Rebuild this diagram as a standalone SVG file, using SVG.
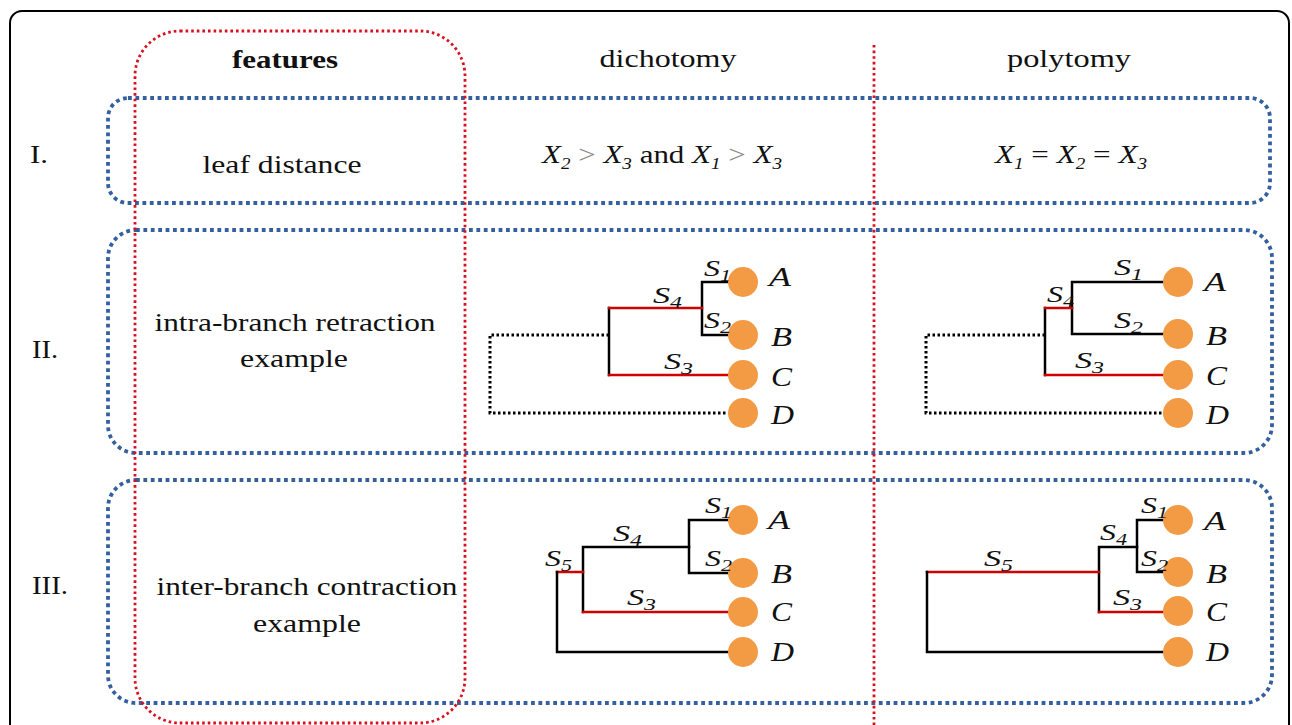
<svg xmlns="http://www.w3.org/2000/svg" width="1292" height="725" viewBox="0 0 1292 725">
<style>
text{font-family:"Liberation Serif","DejaVu Serif",serif;fill:#111}
.hd{font-size:26px;text-anchor:middle}
.rn{font-size:25px}
.ft{font-size:26px;text-anchor:middle}
.fm{font-size:26px;text-anchor:middle;font-style:italic}
.fm .n{font-style:normal}
.gt{fill:#888;font-style:normal}
.sb{font-size:16px}
.sl{font-size:23px;font-style:italic}
.lf{font-size:27px;font-style:italic}
.blue{fill:none;stroke:#35609f;stroke-width:3.8;stroke-dasharray:3.8 3.6}
.red{fill:none;stroke:#d8101e;stroke-width:2.8;stroke-dasharray:2.6 3}
.bk{fill:none;stroke:#000;stroke-width:2.5;stroke-linecap:square}
.rd{fill:none;stroke:#d10000;stroke-width:2.5;stroke-linecap:square}
.dt{fill:none;stroke:#000;stroke-width:3;stroke-dasharray:2.5 2.5}
.leaf{fill:#f39a45}
</style>
<rect x="0" y="0" width="1292" height="725" fill="#fff"/>
<rect id="frame" x="10" y="11" width="1279" height="740" rx="12" fill="none" stroke="#000" stroke-width="2"/>

<g id="rows">
<rect id="row1" class="blue" x="108" y="98" width="1162" height="105" rx="20"/>
<rect id="row2" class="blue" x="108" y="230" width="1164" height="223" rx="28"/>
<rect id="row3" class="blue" x="108" y="480" width="1164" height="223" rx="28"/>
</g>
<g id="columns">
<rect id="featcol" class="red" x="135" y="31" width="330" height="692" rx="45"/>
<line class="red" x1="874" y1="45" x2="874" y2="725"/>
</g>

<g id="headers">
<text class="hd" x="285" y="68" font-weight="bold" textLength="106" lengthAdjust="spacingAndGlyphs">features</text>
<text class="hd" x="668" y="67" textLength="137" lengthAdjust="spacingAndGlyphs">dichotomy</text>
<text class="hd" x="1069" y="67" textLength="124" lengthAdjust="spacingAndGlyphs">polytomy</text>
</g>
<g id="rownums">
<text class="rn" x="30" y="163" textLength="18" lengthAdjust="spacingAndGlyphs">I.</text>
<text class="rn" x="32" y="358" textLength="26" lengthAdjust="spacingAndGlyphs">II.</text>
<text class="rn" x="32" y="594" textLength="36" lengthAdjust="spacingAndGlyphs">III.</text>
</g>
<g id="featuretexts">
<text class="ft" x="282" y="173" textLength="159" lengthAdjust="spacingAndGlyphs">leaf distance</text>
<text class="ft" x="295" y="331" textLength="281" lengthAdjust="spacingAndGlyphs">intra-branch retraction</text>
<text class="ft" x="294" y="367" textLength="108" lengthAdjust="spacingAndGlyphs">example</text>
<text class="ft" x="307" y="595" textLength="301" lengthAdjust="spacingAndGlyphs">inter-branch contraction</text>
<text class="ft" x="307" y="632" textLength="108" lengthAdjust="spacingAndGlyphs">example</text>
</g>
<g id="formulas">
<text class="fm" x="662" y="163" textLength="240" lengthAdjust="spacingAndGlyphs">X<tspan class="sb" dy="6">2</tspan><tspan class="gt" dy="-6"> &gt; </tspan>X<tspan class="sb" dy="6">3</tspan><tspan class="n" dy="-6"> and </tspan>X<tspan class="sb" dy="6">1</tspan><tspan class="gt" dy="-6"> &gt; </tspan>X<tspan class="sb" dy="6">3</tspan></text>
<text class="fm" x="1071" y="163" textLength="152" lengthAdjust="spacingAndGlyphs">X<tspan class="sb" dy="6">1</tspan><tspan class="n" dy="-6"> = </tspan>X<tspan class="sb" dy="6">2</tspan><tspan class="n" dy="-6"> = </tspan>X<tspan class="sb" dy="6">3</tspan></text>
</g>

<g id="connectors">
<path class="dt" d="M609 335 H490 V413 H728"/>
<path class="bk" d="M728 282 H702 V335 H728"/>
<path class="bk" d="M609 308 V375"/>
<path class="rd" d="M609 308 H702"/>
<path class="rd" d="M609 375 H728"/>
<path class="dt" d="M1045 335 H926 V413 H1163"/>
<path class="bk" d="M1163 282 H1072 V334 H1163"/>
<path class="bk" d="M1045 308 V375"/>
<path class="rd" d="M1045 308 H1072"/>
<path class="rd" d="M1045 375 H1163"/>
<path class="bk" d="M728 520 H689 V573 H728"/>
<path class="bk" d="M689 547 H583 V612"/>
<path class="rd" d="M583 612 H728"/>
<path class="rd" d="M557 572 H583"/>
<path class="bk" d="M557 572 V652 H728"/>
<path class="bk" d="M1163 520 H1137 V572 H1163"/>
<path class="bk" d="M1137 547 H1099 V612"/>
<path class="rd" d="M1099 612 H1163"/>
<path class="rd" d="M927 572 H1099"/>
<path class="bk" d="M927 572 V652 H1163"/>
</g>

<g id="tree2d">
<circle class="leaf" cx="743" cy="282" r="15"/>
<circle class="leaf" cx="743" cy="335" r="15"/>
<circle class="leaf" cx="743" cy="375" r="15"/>
<circle class="leaf" cx="743" cy="413" r="15"/>
<text class="lf" x="769" y="286" textLength="22" lengthAdjust="spacingAndGlyphs">A</text>
<text class="lf" x="771" y="346" textLength="21" lengthAdjust="spacingAndGlyphs">B</text>
<text class="lf" x="771" y="386" textLength="21" lengthAdjust="spacingAndGlyphs">C</text>
<text class="lf" x="771" y="424" textLength="23" lengthAdjust="spacingAndGlyphs">D</text>
<text class="sl" x="704" y="276" textLength="27" lengthAdjust="spacingAndGlyphs">S<tspan class="sb" dy="5">1</tspan></text>
<text class="sl" x="653" y="303" textLength="29" lengthAdjust="spacingAndGlyphs">S<tspan class="sb" dy="5">4</tspan></text>
<text class="sl" x="704" y="328" textLength="27" lengthAdjust="spacingAndGlyphs">S<tspan class="sb" dy="5">2</tspan></text>
<text class="sl" x="664" y="369" textLength="29" lengthAdjust="spacingAndGlyphs">S<tspan class="sb" dy="5">3</tspan></text>
</g>
<g id="tree2p">
<circle class="leaf" cx="1178" cy="282" r="15"/>
<circle class="leaf" cx="1178" cy="334" r="15"/>
<circle class="leaf" cx="1178" cy="375" r="15"/>
<circle class="leaf" cx="1178" cy="413" r="15"/>
<text class="lf" x="1204" y="291" textLength="22" lengthAdjust="spacingAndGlyphs">A</text>
<text class="lf" x="1206" y="345" textLength="21" lengthAdjust="spacingAndGlyphs">B</text>
<text class="lf" x="1206" y="385" textLength="21" lengthAdjust="spacingAndGlyphs">C</text>
<text class="lf" x="1206" y="424" textLength="23" lengthAdjust="spacingAndGlyphs">D</text>
<text class="sl" x="1114" y="275" textLength="29" lengthAdjust="spacingAndGlyphs">S<tspan class="sb" dy="5">1</tspan></text>
<text class="sl" x="1047" y="302" textLength="27" lengthAdjust="spacingAndGlyphs">S<tspan class="sb" dy="5">4</tspan></text>
<text class="sl" x="1114" y="328" textLength="29" lengthAdjust="spacingAndGlyphs">S<tspan class="sb" dy="5">2</tspan></text>
<text class="sl" x="1075" y="368" textLength="29" lengthAdjust="spacingAndGlyphs">S<tspan class="sb" dy="5">3</tspan></text>
</g>
<g id="tree3d">
<circle class="leaf" cx="743" cy="520" r="15"/>
<circle class="leaf" cx="743" cy="573" r="15"/>
<circle class="leaf" cx="743" cy="612" r="15"/>
<circle class="leaf" cx="743" cy="652" r="15"/>
<text class="lf" x="768" y="529" textLength="22" lengthAdjust="spacingAndGlyphs">A</text>
<text class="lf" x="771" y="583" textLength="21" lengthAdjust="spacingAndGlyphs">B</text>
<text class="lf" x="771" y="621" textLength="21" lengthAdjust="spacingAndGlyphs">C</text>
<text class="lf" x="771" y="661" textLength="23" lengthAdjust="spacingAndGlyphs">D</text>
<text class="sl" x="705" y="513" textLength="27" lengthAdjust="spacingAndGlyphs">S<tspan class="sb" dy="5">1</tspan></text>
<text class="sl" x="613" y="541" textLength="29" lengthAdjust="spacingAndGlyphs">S<tspan class="sb" dy="5">4</tspan></text>
<text class="sl" x="705" y="566" textLength="27" lengthAdjust="spacingAndGlyphs">S<tspan class="sb" dy="5">2</tspan></text>
<text class="sl" x="545" y="566" textLength="27" lengthAdjust="spacingAndGlyphs">S<tspan class="sb" dy="5">5</tspan></text>
<text class="sl" x="627" y="605" textLength="29" lengthAdjust="spacingAndGlyphs">S<tspan class="sb" dy="5">3</tspan></text>
</g>
<g id="tree3p">
<circle class="leaf" cx="1178" cy="520" r="15"/>
<circle class="leaf" cx="1178" cy="572" r="15"/>
<circle class="leaf" cx="1178" cy="611" r="15"/>
<circle class="leaf" cx="1178" cy="652" r="15"/>
<text class="lf" x="1204" y="530" textLength="22" lengthAdjust="spacingAndGlyphs">A</text>
<text class="lf" x="1206" y="583" textLength="21" lengthAdjust="spacingAndGlyphs">B</text>
<text class="lf" x="1206" y="621" textLength="21" lengthAdjust="spacingAndGlyphs">C</text>
<text class="lf" x="1206" y="661" textLength="23" lengthAdjust="spacingAndGlyphs">D</text>
<text class="sl" x="1141" y="513" textLength="27" lengthAdjust="spacingAndGlyphs">S<tspan class="sb" dy="5">1</tspan></text>
<text class="sl" x="1100" y="540" textLength="27" lengthAdjust="spacingAndGlyphs">S<tspan class="sb" dy="5">4</tspan></text>
<text class="sl" x="1141" y="566" textLength="27" lengthAdjust="spacingAndGlyphs">S<tspan class="sb" dy="5">2</tspan></text>
<text class="sl" x="984" y="566" textLength="29" lengthAdjust="spacingAndGlyphs">S<tspan class="sb" dy="5">5</tspan></text>
<text class="sl" x="1113" y="605" textLength="29" lengthAdjust="spacingAndGlyphs">S<tspan class="sb" dy="5">3</tspan></text>
</g>
</svg>
